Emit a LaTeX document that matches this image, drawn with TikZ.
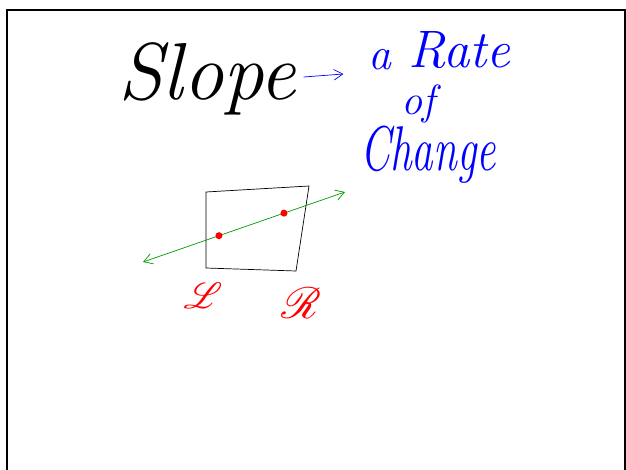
\documentclass[tikz,border=0pt]{standalone}
\usepackage{mathrsfs}
\usetikzlibrary{arrows.meta, positioning}
\tikzset{
    hand/.style={inner sep=0pt, font=\itshape},
    dot/.style={circle, fill=red, inner sep=0pt, minimum size=4pt},
}
\begin{document}
\begin{tikzpicture}[x=0.02cm, y=-0.02cm, >={Straight Barb[length=5pt, width=6pt]}]
    \useasboundingbox (0,0) rectangle (626,470);
    \draw[line width=1.6pt] (7,471) -- (7,10) -- (625,10) -- (625,471);
    % title
    \node[hand, anchor=base west, font=\fontsize{46}{46}\selectfont\itshape] (slope) at (118,99) {Slope};
    \node[hand, anchor=base west, blue, font=\fontsize{26}{26}\selectfont\itshape] (a) at (368,70) {a};
    \node[hand, anchor=base west, blue, font=\fontsize{30}{30}\selectfont\itshape] (rate) at (408,68) {Rate};
    \node[hand, anchor=base west, blue, font=\fontsize{24}{24}\selectfont\itshape] (of) at (401,114) {of};
    \node[hand, anchor=base west, blue, font=\fontsize{36}{36}\selectfont\itshape] (change) at (360,170) {\scalebox{0.68}[1]{Change}};
    \draw[blue, ->] ([xshift=4pt]slope.east |- 0,77) -- ([xshift=-14pt]a.west |- 0,74);
    % box and secant line
    \draw (206,192) -- (309,186) -- (296,271) -- (206,268) -- cycle;
    \coordinate (lend) at (143,262);
    \coordinate (rend) at (345,192);
    \draw[green!60!black, <->] (lend) -- node[pos=0.376, dot] (pl) {} node[pos=0.698, dot] (pr) {} (rend);
    \node[red, font=\fontsize{22}{22}\selectfont] (lbl) at (203,296) {$\mathscr{L}$};
    \node[red, font=\fontsize{26}{26}\selectfont] (rbl) at (301,303) {$\mathscr{R}$};
\end{tikzpicture}
\end{document}
